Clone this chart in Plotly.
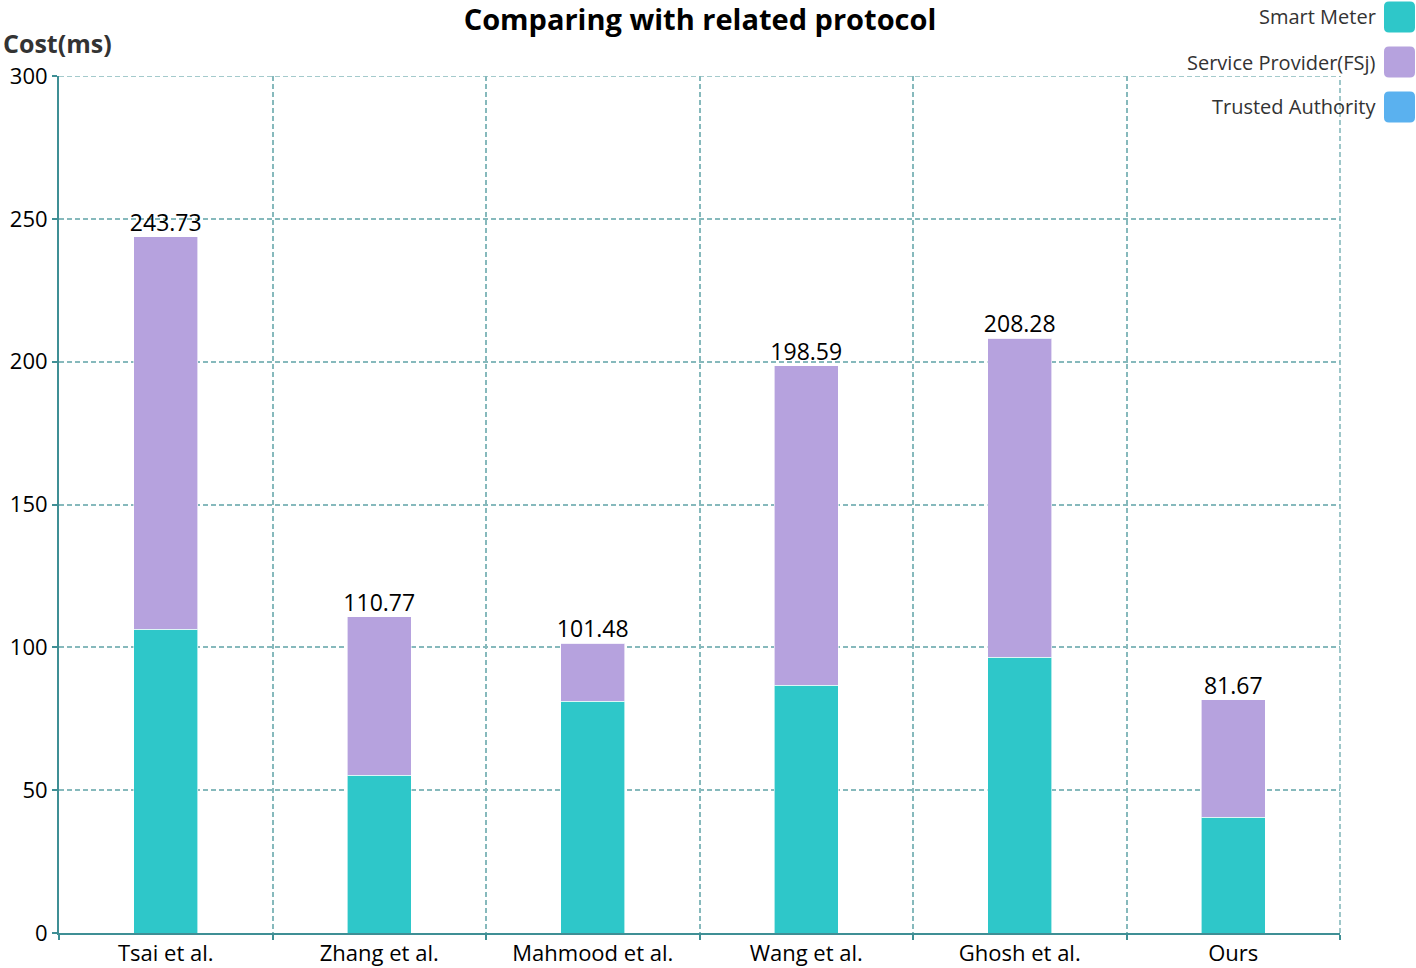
import plotly.graph_objects as go

categories = ["Tsai et al.", "Zhang et al.", "Mahmood et al.", "Wang et al.", "Ghosh et al.", "Ours"]
totals = [243.73, 110.77, 101.48, 198.59, 208.28, 81.67]
smart_meter = [106.4, 55.3, 81.2, 86.8, 96.6, 40.6]
service_provider = [round(t - s, 2) for t, s in zip(totals, smart_meter)]
trusted_authority = [0, 0, 0, 0, 0, 0]
total_labels = [f"{t:.2f}" for t in totals]

series_names = ["Smart Meter", "Service Provider(FSj)", "Trusted Authority"]
series_colors = ["#2ec7c9", "#b6a2de", "#5ab1ef"]

Y_MAX = 300

FONT = "Open Sans"
GRID = "#86b9bc"
AXIS = "#3f8f95"

fig = go.Figure()
for name, vals, col in zip(series_names, [smart_meter, service_provider, trusted_authority], series_colors):
    fig.add_trace(go.Bar(
        x=categories, y=vals, name=name, width=0.3,
        marker=dict(color=col, line=dict(color="rgba(255,255,255,0.6)", width=1)),
        showlegend=False, hoverinfo="x+y+name",
    ))

fig.add_trace(go.Scatter(
    x=categories, y=totals, mode="text", text=total_labels,
    textposition="top center", textfont=dict(family=FONT, size=23, color="#000"),
    showlegend=False, hoverinfo="skip", cliponaxis=False,
))

# Custom legend (text on the left of the swatch)
shapes = []
annotations = []
for i, (name, col) in enumerate(zip(series_names, series_colors)):
    yc = 17 + i * 45
    annotations.append(dict(
        xref="paper", yref="paper", x=1 + (1378 - 1340) / 1281, xanchor="right",
        y=1 + (76 - yc) / 857, yanchor="middle", text=name, showarrow=False,
        font=dict(family=FONT, size=20, color="#333"),
    ))
    x0 = 1 + (1384 - 1340) / 1281
    x1 = 1 + (1415 - 1340) / 1281
    y0 = 1 + (76 - (yc + 15.5)) / 857
    y1 = 1 + (76 - (yc - 15.5)) / 857
    rx = 5 / 1281
    ry = 5 / 857
    path = (f"M {x0+rx},{y0} L {x1-rx},{y0} Q {x1},{y0} {x1},{y0+ry} L {x1},{y1-ry} "
            f"Q {x1},{y1} {x1-rx},{y1} L {x0+rx},{y1} Q {x0},{y1} {x0},{y1-ry} "
            f"L {x0},{y0+ry} Q {x0},{y0} {x0+rx},{y0} Z")
    shapes.append(dict(type="path", xref="paper", yref="paper", path=path,
                       fillcolor=col, line=dict(width=0)))

# Edge gridlines (top at y=300 and right boundary of last category)
shapes.append(dict(type="line", xref="paper", yref="y", x0=0, x1=1, y0=Y_MAX, y1=Y_MAX,
                   line=dict(color=GRID, width=1.6, dash="5px,3px"), layer="below"))
shapes.append(dict(type="line", xref="paper", yref="y", x0=1, x1=1, y0=0, y1=Y_MAX,
                   line=dict(color=GRID, width=1.6, dash="5px,3px"), layer="above"))

annotations.append(dict(
    xref="paper", yref="paper", x=-58 / 1281, xanchor="left",
    y=1 + (76 - 43) / 857, yanchor="middle", text="<b>Cost(ms)</b>", showarrow=False,
    font=dict(family=FONT, size=25, color="#333"),
))

fig.update_layout(
    width=1416, height=968,
    barmode="stack",
    plot_bgcolor="white", paper_bgcolor="white",
    margin=dict(l=59, r=76, t=76, b=35),
    title=dict(text="<b>Comparing with related protocol</b>", x=700 / 1416, xanchor="center",
               y=1 - 20 / 968, yanchor="middle",
               font=dict(family=FONT, size=29, color="#000")),
    shapes=shapes, annotations=annotations,
    xaxis=dict(
        type="category", tickson="boundaries", showgrid=True, gridcolor=GRID,
        griddash="5px,3px", gridwidth=1.6, showline=True, linecolor=AXIS, linewidth=2,
        ticks="outside", ticklen=5, tickcolor=AXIS, tickwidth=1.5, automargin=False,
        tickfont=dict(family=FONT, size=22, color="#000"),
        range=[-0.5, 5.5],
    ),
    yaxis=dict(
        range=[0, Y_MAX], dtick=50, showgrid=True, gridcolor=GRID, griddash="5px,3px",
        gridwidth=1.6, showline=True, linecolor=AXIS, linewidth=2, automargin=False,
        ticks="outside", ticklen=5, tickcolor=AXIS, tickwidth=1.5, zeroline=False,
        tickfont=dict(family=FONT, size=22, color="#000"),
    ),
    bargap=0.7,
)

fig.write_html("out.html", config={"displayModeBar": False},
               post_script="document.body.style.margin='0';document.body.style.overflow='hidden';")
